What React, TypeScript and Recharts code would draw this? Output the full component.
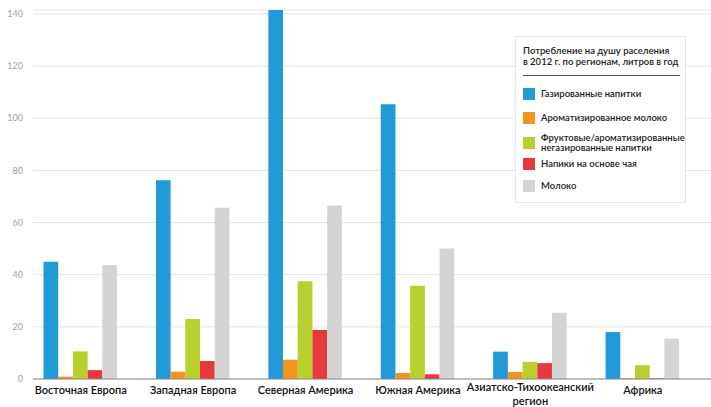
import { BarChart, Bar, XAxis, YAxis, CartesianGrid, Legend } from 'recharts'

const regions = [
  'Восточная Европа',
  'Западная Европа',
  'Северная Америка',
  'Южная Америка',
  'Азиатско-Тихоокеанский регион',
  'Африка',
]

const carbonated = [45.0, 76.2, 141.5, 105.4, 10.5, 18.0]
const flavoredMilk = [0.9, 2.8, 7.4, 2.3, 2.7, 0.3]
const fruitDrinks = [10.6, 23.0, 37.5, 35.8, 6.6, 5.3]
const teaDrinks = [3.4, 6.9, 18.8, 1.8, 6.1, 0.3]
const milk = [43.7, 65.7, 66.5, 50.0, 25.4, 15.5]

const yTicks = [0, 20, 40, 60, 80, 100, 120, 140]

const legendTitle = ['Потребление на душу раселения', 'в 2012 г. по регионам, литров в год']

const series = [
  { key: 'carbonated', name: 'Газированные напитки', color: '#229ad7' },
  { key: 'flavoredMilk', name: 'Ароматизированное молоко', color: '#f4931f' },
  { key: 'fruitDrinks', name: 'Фруктовые/ароматизированные\nнегазированные напитки', color: '#b8cf2e' },
  { key: 'teaDrinks', name: 'Напики на основе чая', color: '#e6393f' },
  { key: 'milk', name: 'Молоко', color: '#d4d4d4' },
]

// vertical centre of each legend row, from the top of the legend box
const legendRowCentres = [57, 81, 105.5, 127, 149]

const data = regions.map((region, i) => ({
  region,
  carbonated: carbonated[i],
  flavoredMilk: flavoredMilk[i],
  fruitDrinks: fruitDrinks[i],
  teaDrinks: teaDrinks[i],
  milk: milk[i],
}))

const FONT = 'Lato, "Open Sans", sans-serif'

function RegionTick(props: any) {
  const { x, y, payload } = props
  const words: string[] = String(payload.value).split(' ')
  const twoLines = payload.value.length > 20
  const lines = twoLines ? [words.slice(0, -1).join(' '), words[words.length - 1]] : [payload.value]
  return (
    <text x={x} y={y} textAnchor="middle" fontFamily={FONT} fontSize={11} fontWeight={600} fill="#111">
      {lines.map((line: string, i: number) => (
        <tspan key={i} x={x} dy={i === 0 ? (twoLines ? 10 : 13) : 13.5}>{line}</tspan>
      ))}
    </text>
  )
}

function LegendBox() {
  return (
    <div
      style={{
        position: 'relative',
        width: 171,
        height: 167,
        boxSizing: 'border-box',
        border: '1px solid #e6e6e6',
        background: '#fff',
        fontFamily: FONT,
        fontSize: 9.5,
        fontWeight: 600,
        color: '#1a1a1a',
      }}
    >
      <div
        style={{
          position: 'absolute',
          left: 7,
          top: 8,
          width: 157,
          lineHeight: '11px',
          paddingBottom: 8,
          borderBottom: '1px solid #555',
        }}
      >
        {legendTitle.map(t => <div key={t}>{t}</div>)}
      </div>
      {series.map((s, i) => (
        <div
          key={s.key}
          style={{
            position: 'absolute',
            left: 7,
            top: legendRowCentres[i] - 12,
            height: 24,
            display: 'flex',
            alignItems: 'center',
          }}
        >
          <span style={{ width: 12, height: 12, background: s.color, marginRight: 6, flexShrink: 0 }} />
          <span style={{ whiteSpace: 'pre', lineHeight: '9.5px' }}>{s.name}</span>
        </div>
      ))}
    </div>
  )
}

export default function App() {
  return (
    <div style={{ position: 'absolute', left: 0, top: 0, width: 711, height: 407, background: '#fff' }}>
      <BarChart
        width={711}
        height={407}
        data={data}
        margin={{ top: 10, right: 0, left: 0, bottom: 0 }}
        barGap={0}
        barSize={14.7}
      >
        <CartesianGrid vertical={false} stroke="#e2e2e2" />
        <XAxis
          dataKey="region"
          height={28}
          interval={0}
          tickLine={false}
          tickSize={0}
          stroke="#8a8a8a"
          padding={{ left: -8.5, right: 12 }}
          tick={<RegionTick />}
        />
        <YAxis
          width={33}
          domain={[0, 'dataMax']}
          ticks={yTicks}
          axisLine={false}
          tickLine={false}
          tickSize={0}
          tickMargin={10}
          tick={{ fontSize: 9, fill: '#a0a0a0', fontFamily: FONT }}
        />
        <Legend
          layout="vertical"
          align="center"
          verticalAlign="middle"
          wrapperStyle={{ position: 'absolute', left: 515, top: 36, width: 171, height: 167 }}
          content={() => <LegendBox />}
        />
        {series.map(s => (
          <Bar key={s.key} dataKey={s.key} name={s.name} fill={s.color} isAnimationActive={false} />
        ))}
      </BarChart>
    </div>
  )
}
